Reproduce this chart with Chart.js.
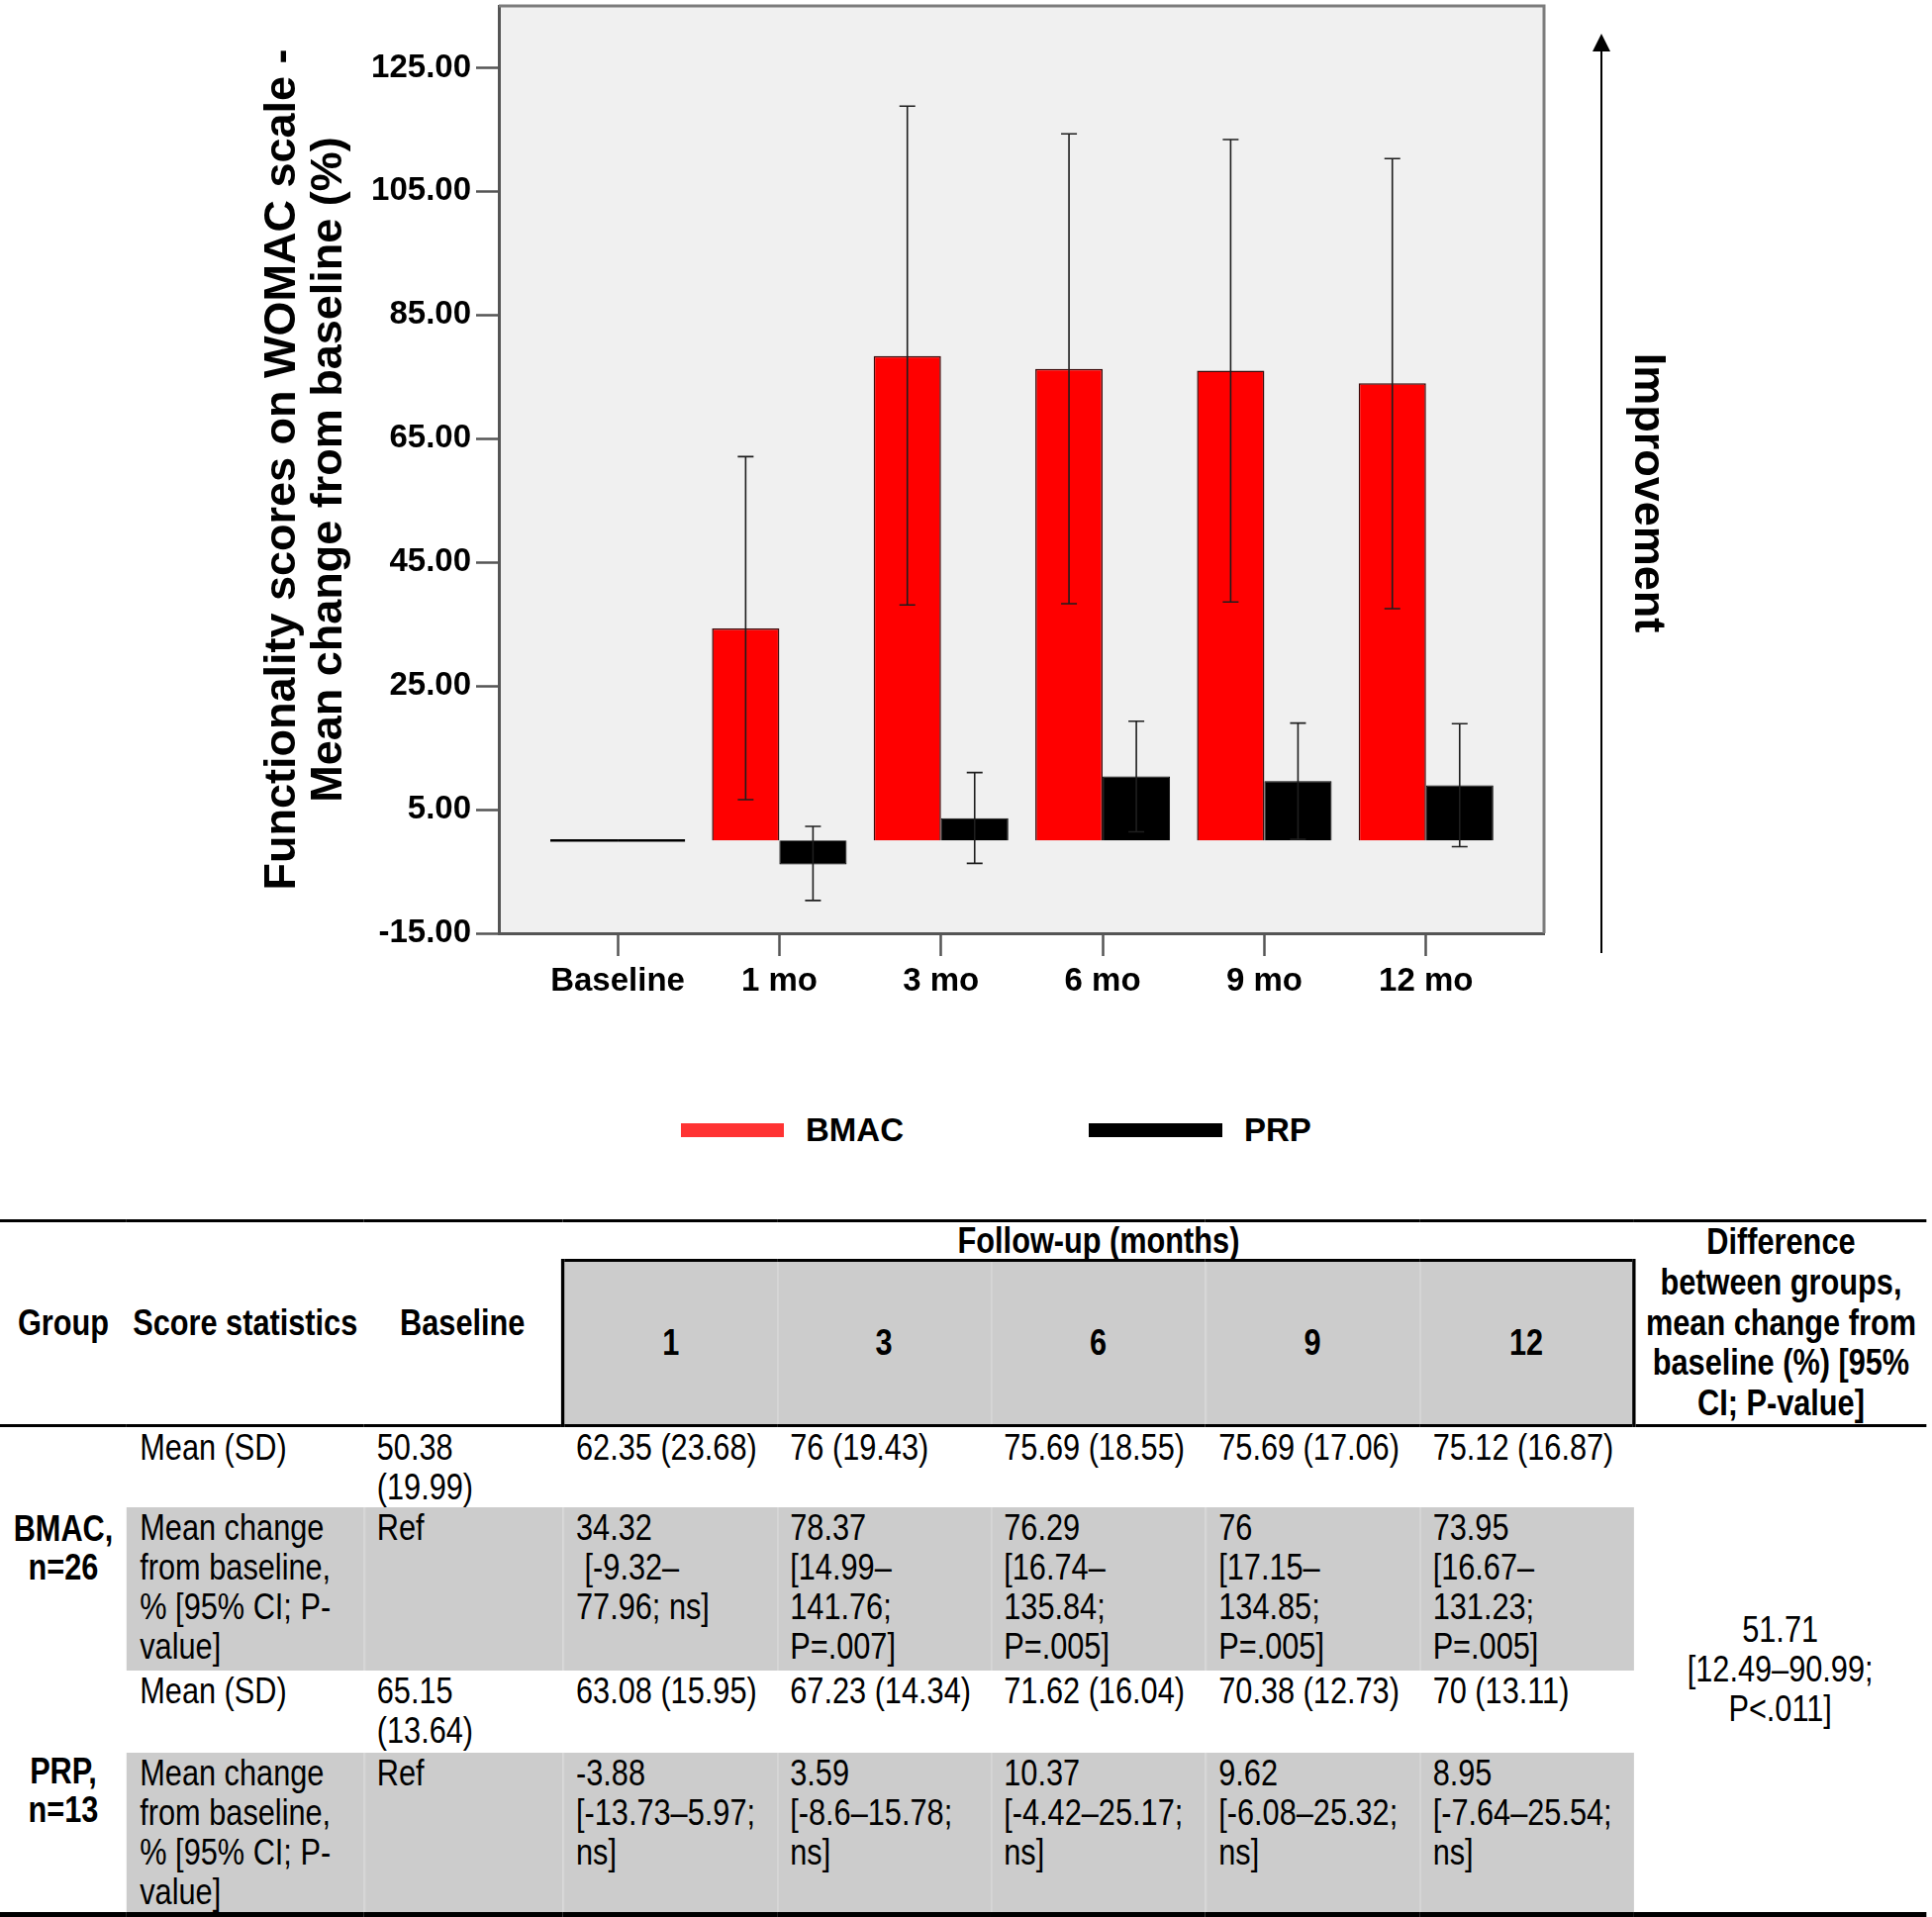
<!DOCTYPE html>
<html>
<head>
<meta charset="utf-8">
<title>WOMAC functionality - BMAC vs PRP</title>
<script src="https://cdn.jsdelivr.net/npm/chart.js@4.4.1/dist/chart.umd.min.js"></script>
<style>
  html, body { margin: 0; padding: 0; background: #fff; }
  body { position: relative; width: 1952px; height: 1937px; overflow: hidden; }
  #chartBox { position: absolute; left: 0; top: 0; width: 1952px; height: 1030px; }

  /* legend under the chart */
  #legend { position: absolute; left: 688px; top: 1122px; height: 40px; display: flex; align-items: center;
            font: bold 33px 'Liberation Sans', Arial, sans-serif; color: #000; }
  #legend .item { display: flex; align-items: center; }
  #legend .item + .item { margin-left: 187px; }
  #legend .swatch { display: inline-block; height: 14px; margin-right: 22px; }

  /* stats table - narrow text is done by squashing the table horizontally (scaleX set in script) */
  #stats { position: absolute; left: 0; top: 1232px; border-collapse: collapse; table-layout: fixed;
           transform-origin: 0 0;
           font-family: 'Liberation Sans', Arial, sans-serif; font-size: 37px; color: #000; }
  #stats th, #stats td { padding: 1px 0 0 16px; white-space: pre; vertical-align: top; text-align: left;
                         line-height: 40px; font-weight: normal; }
  #stats thead th { font-weight: bold; text-align: center; vertical-align: middle; padding: 0; line-height: 36px; }
  #stats tr.top th { border-top: 3px solid #000; }
  #stats th.span2, #stats tr.months th { border-bottom: 3px solid #000; }
  #stats tr.months th { background: #ccc; border-top: 3px solid #000; }
  #stats tr.months th:first-child { border-left: 4px solid #000; }
  #stats tr.months th:last-child { border-right: 4px solid #000; }
  #stats tr.months th + th { box-shadow: inset 2px 0 0 #d6d6d6; }
  #stats thead th.diff { line-height: 40.8px; }
  #stats td.grp { font-weight: bold; text-align: center; vertical-align: middle; padding: 0; line-height: 38.5px; }
  #stats td.diffVal { text-align: center; vertical-align: middle; line-height: 40px; padding: 0; }
  #stats tr.shade td.g { background: #ccc; }
  #stats tr.shade td.g + td.g { box-shadow: inset 2px 0 0 #d6d6d6; }
  #stats tbody tr:last-child td, #stats td.grp.last, #stats td.diffVal { border-bottom: 6px solid #000; }
  #stats tr.top { height: 40px; }
  #stats tr.months { height: 166px; }
  #stats tr.r1 { height: 82px; }
  #stats tr.r2 { height: 165px; }
  #stats tr.r3 { height: 83px; }
  #stats tr.r4 { height: 163px; }
</style>
</head>
<body>
<div id="chartBox"><canvas id="womac-chart"></canvas></div>
<div id="legend"></div>
<table id="stats"></table>

<script>
/*=======================================
 Data
========================================*/
const categories = ['Baseline', '1 mo', '3 mo', '6 mo', '9 mo', '12 mo'];
const bmacChange = [0, 34.32, 78.37, 76.29, 76, 73.95];
const prpChange = [0, -3.88, 3.59, 10.37, 9.62, 8.95];
// error bar ends
const bmacErrLow = [null, 6.6, 38.1, 38.3, 38.6, 37.5];
const bmacErrHigh = [null, 62.1, 118.8, 114.3, 113.4, 110.3];
const prpErrLow = [null, -9.7, -3.7, 1.4, 0.2, -1.0];
const prpErrHigh = [null, 2.3, 11.0, 19.3, 19.0, 18.9];
const yTicks = [-15, 5, 25, 45, 65, 85, 105, 125];

// table text
const followUps = ['1', '3', '6', '9', '12'];
const bmacMeanSd = ['50.38\n(19.99)', '62.35 (23.68)', '76 (19.43)', '75.69 (18.55)', '75.69 (17.06)', '75.12 (16.87)'];
const bmacChangeText = ['Ref', '34.32\n [-9.32–\n77.96; ns]', '78.37\n[14.99–\n141.76;\nP=.007]',
  '76.29\n[16.74–\n135.84;\nP=.005]', '76\n[17.15–\n134.85;\nP=.005]', '73.95\n[16.67–\n131.23;\nP=.005]'];
const prpMeanSd = ['65.15\n(13.64)', '63.08 (15.95)', '67.23 (14.34)', '71.62 (16.04)', '70.38 (12.73)', '70 (13.11)'];
const prpChangeText = ['Ref', '-3.88\n[-13.73–5.97;\nns]', '3.59\n[-8.6–15.78;\nns]',
  '10.37\n[-4.42–25.17;\nns]', '9.62\n[-6.08–25.32;\nns]', '8.95\n[-7.64–25.54;\nns]'];
const groupDiffText = '51.71\n[12.49–90.99;\nP<.011]';

const errorBars = [
  { low: bmacErrLow, high: bmacErrHigh },
  { low: prpErrLow, high: prpErrHigh }
];

/*=======================================
 Chart
========================================*/
Chart.defaults.font.family = "'Liberation Sans', Arial, sans-serif";
Chart.defaults.color = '#000';

const axisFont = { size: 33, weight: 'bold', lineHeight: 1.2 };
const axisGray = '#555';

// grey plot background + top/right frame
const framePlugin = {
  id: 'frame',
  beforeDraw(chart) {
    const { ctx, chartArea: a } = chart;
    ctx.save();
    ctx.fillStyle = '#f0f0f0';
    ctx.fillRect(a.left, a.top, a.right - a.left, a.bottom - a.top);
    ctx.restore();
  },
  afterDraw(chart) {
    const { ctx, chartArea: a } = chart;
    ctx.save();
    ctx.strokeStyle = '#7c7c7c';
    ctx.lineWidth = 3;
    ctx.beginPath();
    ctx.moveTo(a.left, a.top);
    ctx.lineTo(a.right, a.top);
    ctx.lineTo(a.right, a.bottom);
    ctx.stroke();
    ctx.restore();
  }
};

// error bars, and a flat line for the zero bars at baseline
const errorBarPlugin = {
  id: 'errorBars',
  afterDatasetsDraw(chart) {
    const { ctx } = chart;
    const y = chart.scales.y;
    ctx.save();
    chart.data.datasets.forEach((ds, di) => {
      const meta = chart.getDatasetMeta(di);
      const eb = errorBars[di];
      meta.data.forEach((bar, i) => {
        if (ds.data[i].y === 0) {
          ctx.strokeStyle = '#000';
          ctx.lineWidth = 2.5;
          ctx.beginPath();
          ctx.moveTo(bar.x - bar.width / 2, bar.y);
          ctx.lineTo(bar.x + bar.width / 2, bar.y);
          ctx.stroke();
        }
        if (eb.low[i] == null) return;
        const yLo = y.getPixelForValue(eb.low[i]);
        const yHi = y.getPixelForValue(eb.high[i]);
        ctx.strokeStyle = '#1e1e1e';
        ctx.lineWidth = 1.6;
        ctx.beginPath();
        ctx.moveTo(bar.x, yLo);
        ctx.lineTo(bar.x, yHi);
        ctx.moveTo(bar.x - 8, yLo);
        ctx.lineTo(bar.x + 8, yLo);
        ctx.moveTo(bar.x - 8, yHi);
        ctx.lineTo(bar.x + 8, yHi);
        ctx.stroke();
      });
    });
    ctx.restore();
  }
};

// "Improvement" arrow at the right of the plot
const arrowPlugin = {
  id: 'improvement',
  afterDraw(chart) {
    const { ctx, chartArea: a } = chart;
    const ax = a.right + 58;
    ctx.save();
    ctx.strokeStyle = '#000';
    ctx.fillStyle = '#000';
    ctx.lineWidth = 2;
    ctx.beginPath();
    ctx.moveTo(ax, a.bottom + 20);
    ctx.lineTo(ax, a.top + 44);
    ctx.stroke();
    ctx.beginPath();
    ctx.moveTo(ax, a.top + 28);
    ctx.lineTo(ax - 9, a.top + 46);
    ctx.lineTo(ax + 9, a.top + 46);
    ctx.closePath();
    ctx.fill();
    ctx.translate(ax + 46, 498);
    ctx.rotate(Math.PI / 2);
    ctx.font = "bold 45px 'Liberation Sans', Arial, sans-serif";
    ctx.textAlign = 'center';
    ctx.textBaseline = 'middle';
    ctx.fillText('Improvement', 0, 0);
    ctx.restore();
  }
};

const ctx = document.getElementById('womac-chart');

const womacChart = new Chart(ctx, {
  type: 'bar',
  data: {
    datasets: [
      {
        label: 'BMAC',
        data: categories.map((c, i) => ({ x: i, y: bmacChange[i] })),
        backgroundColor: '#ff0000',
        borderColor: '#3a0a0a',
        borderWidth: 1.5,
        categoryPercentage: 0.833,
        barPercentage: 1
      },
      {
        label: 'PRP',
        data: categories.map((c, i) => ({ x: i, y: prpChange[i] })),
        backgroundColor: '#000000',
        borderColor: '#000000',
        borderWidth: 1,
        categoryPercentage: 0.833,
        barPercentage: 1
      }
    ]
  },
  options: {
    responsive: true,
    maintainAspectRatio: false,
    animation: false,
    layout: { padding: { top: 6, right: 392, left: 0, bottom: 0 } },
    plugins: {
      legend: { display: false },
      tooltip: { enabled: false }
    },
    scales: {
      x: {
        type: 'linear',
        min: -0.735,
        max: 5.73,
        offset: false,
        afterBuildTicks: axis => { axis.ticks = categories.map((c, i) => ({ value: i })); },
        afterFit: axis => { axis.height = 87; axis.paddingLeft = 0; axis.paddingRight = 0; },
        ticks: {
          autoSkip: false,
          maxRotation: 0,
          padding: 6,
          font: axisFont,
          color: '#000',
          callback: v => categories[v]
        },
        grid: { offset: false, drawOnChartArea: false, drawTicks: true, tickLength: 23, tickWidth: 2.5, tickColor: axisGray },
        border: { display: true, color: axisGray, width: 3 }
      },
      y: {
        min: -15,
        max: 135,
        afterBuildTicks: axis => { axis.ticks = yTicks.map(v => ({ value: v })); },
        afterFit: axis => { axis.width = 504; axis.paddingTop = 0; axis.paddingBottom = 0; },
        ticks: {
          padding: 5,
          font: axisFont,
          color: '#000',
          callback: v => v.toFixed(2)
        },
        grid: { drawOnChartArea: false, drawTicks: true, tickLength: 23, tickWidth: 2.5, tickColor: axisGray },
        border: { display: true, color: axisGray, width: 3 },
        title: {
          display: true,
          text: ['Functionality scores on WOMAC scale -', 'Mean change from baseline (%)'],
          font: { size: 45, weight: 'bold', lineHeight: 1.04 },
          color: '#000',
          padding: { top: 262, bottom: 0 }
        }
      }
    }
  },
  plugins: [framePlugin, errorBarPlugin, arrowPlugin]
});

/*=======================================
 Legend (html, from the chart datasets)
========================================*/
const legendStyle = {
  BMAC: { color: '#ff3333', width: 104 },
  PRP: { color: '#000000', width: 135 }
};
const legendBox = document.getElementById('legend');
womacChart.data.datasets.forEach(ds => {
  const item = document.createElement('div');
  item.className = 'item';
  const sw = document.createElement('span');
  sw.className = 'swatch';
  sw.style.background = legendStyle[ds.label].color;
  sw.style.width = legendStyle[ds.label].width + 'px';
  const txt = document.createElement('span');
  txt.textContent = ds.label;
  item.append(sw, txt);
  legendBox.append(item);
});

/*=======================================
 Table
========================================*/
const table = document.getElementById('stats');
const squash = 0.83;
// column widths as they appear on screen
const colWidths = [128, 239.5, 201.25, 216.25, 216, 217, 216.4, 216.9, 294.7];

function addCell(row, tag, text, cls, attrs) {
  const c = document.createElement(tag);
  c.textContent = text;
  if (cls) c.className = cls;
  if (attrs) Object.keys(attrs).forEach(k => c.setAttribute(k, attrs[k]));
  row.append(c);
  return c;
}

const colgroup = document.createElement('colgroup');
let tableWidth = 0;
colWidths.forEach(w => {
  const col = document.createElement('col');
  col.style.width = (w / squash) + 'px';
  tableWidth += w / squash;
  colgroup.append(col);
});
table.style.width = tableWidth + 'px';
table.style.transform = 'scaleX(' + squash + ')';
table.append(colgroup);

const thead = document.createElement('thead');
const h1 = document.createElement('tr');
h1.className = 'top';
addCell(h1, 'th', 'Group', 'span2', { rowspan: 2 });
addCell(h1, 'th', 'Score statistics', 'span2', { rowspan: 2 });
addCell(h1, 'th', 'Baseline', 'span2', { rowspan: 2 });
addCell(h1, 'th', 'Follow-up (months)', '', { colspan: followUps.length });
addCell(h1, 'th', 'Difference\nbetween groups,\nmean change from\nbaseline (%) [95%\nCI; P-value]', 'span2 diff', { rowspan: 2 });
const h2 = document.createElement('tr');
h2.className = 'months';
followUps.forEach(m => addCell(h2, 'th', m));
thead.append(h1, h2);
table.append(thead);

const tbody = document.createElement('tbody');
function addGroup(name, meanSd, changeText, first) {
  const rA = document.createElement('tr');
  rA.className = first ? 'r1' : 'r3';
  addCell(rA, 'td', name, first ? 'grp' : 'grp last', { rowspan: 2 });
  addCell(rA, 'td', 'Mean (SD)');
  meanSd.forEach(t => addCell(rA, 'td', t));
  if (first) addCell(rA, 'td', groupDiffText, 'diffVal', { rowspan: 4 });
  const rB = document.createElement('tr');
  rB.className = 'shade ' + (first ? 'r2' : 'r4');
  addCell(rB, 'td', 'Mean change\nfrom baseline,\n% [95% CI; P-\nvalue]', 'g');
  changeText.forEach(t => addCell(rB, 'td', t, 'g'));
  tbody.append(rA, rB);
}
addGroup('BMAC,\nn=26', bmacMeanSd, bmacChangeText, true);
addGroup('PRP,\nn=13', prpMeanSd, prpChangeText, false);
table.append(tbody);
</script>
</body>
</html>
